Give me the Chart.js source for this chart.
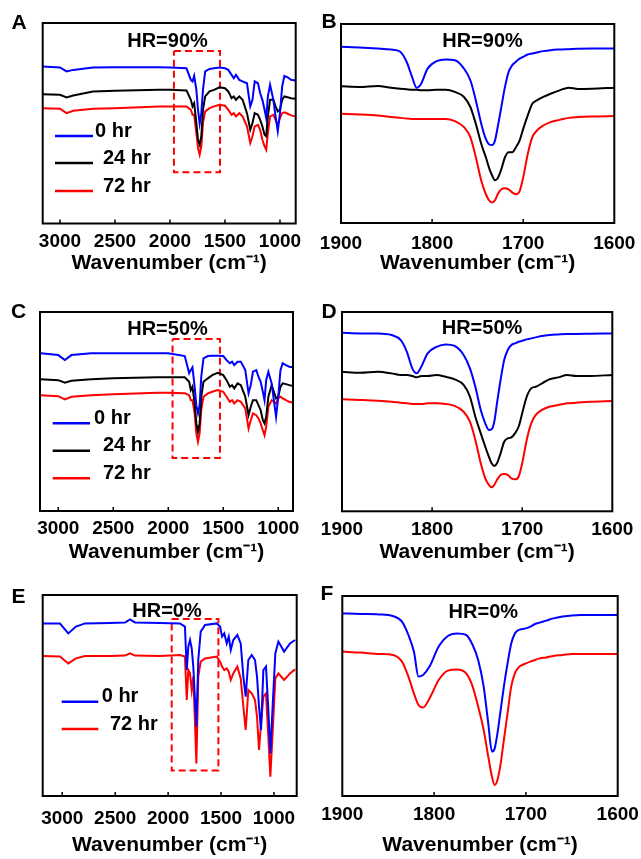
<!DOCTYPE html>
<html>
<head>
<meta charset="utf-8">
<script src="https://cdn.jsdelivr.net/npm/chart.js@4.4.0/dist/chart.umd.min.js"></script>
<style>
  body { margin: 0; background: #fff; }
  #fig { position: relative; width: 641px; height: 859px; overflow: hidden; background: #fff; }
  #fig canvas { position: absolute; }
  .tag { position: absolute; font: bold 21px "Liberation Sans", Arial, sans-serif; line-height: 21px; color: #000; }
</style>
</head>
<body>
<div id="fig">
  <canvas id="pA" width="320" height="290" style="left:0px;top:0px"></canvas>
  <canvas id="pB" width="331" height="290" style="left:310px;top:0px"></canvas>
  <canvas id="pC" width="320" height="290" style="left:0px;top:290px"></canvas>
  <canvas id="pD" width="331" height="290" style="left:310px;top:290px"></canvas>
  <canvas id="pE" width="320" height="279" style="left:0px;top:580px"></canvas>
  <canvas id="pF" width="331" height="279" style="left:310px;top:580px"></canvas>
  <div class="tag" style="left:11.5px;top:11px">A</div>
  <div class="tag" style="left:321.5px;top:10px">B</div>
  <div class="tag" style="left:11px;top:300px">C</div>
  <div class="tag" style="left:321.5px;top:300px">D</div>
  <div class="tag" style="left:11.5px;top:585px">E</div>
  <div class="tag" style="left:320.5px;top:582px">F</div>
</div>
<script>
// wavenumbers (cm-1) of the points
const wnWide = [3160, 3000, 2940, 2880, 2700, 2500, 2100, 2000, 1850, 1810, 1795, 1780, 1760, 1745, 1730, 1715,
  1700, 1680, 1640, 1600, 1550, 1500, 1470, 1440, 1420, 1400, 1370, 1340, 1300, 1270, 1250, 1230, 1200, 1180,
  1160, 1140, 1125, 1110, 1090, 1060, 1040, 1020, 1000, 980, 960, 930, 900, 860];
const wnNarrow = [1900, 1880, 1860, 1845, 1835, 1828, 1822, 1817, 1812, 1805, 1795, 1785, 1775, 1765, 1758, 1752,
  1746, 1741, 1737, 1734, 1731, 1728, 1724, 1720, 1716, 1712, 1708, 1704, 1700, 1695, 1690, 1685, 1678, 1670,
  1660, 1650, 1640, 1625, 1600];
const wnE = [3182, 3022, 2943, 2871, 2785, 2549, 2407, 2360, 2313, 2077, 1888, 1841, 1824, 1809, 1793, 1777, 1762,
  1746, 1733, 1715, 1692, 1651, 1541, 1509, 1490, 1469, 1446, 1427, 1408, 1384, 1346, 1314, 1289, 1267, 1242, 1210,
  1179, 1160, 1141, 1122, 1100, 1075, 1053, 1034, 1011, 987, 958, 904, 848, 800];

// tick labels
const ticksWide = [3000, 2500, 2000, 1500, 1000];
const ticksNarrow = [1900, 1800, 1700, 1600];

// transmittance, arbitrary units (stacked, offset)
// HR=90%
const a0 = [78.7, 78.2, 76.2, 77.0, 78.2, 78.3, 78.3, 78.2, 77.8, 72.0, 71.2, 74.0, 67.0, 57.0, 50.0, 55.3, 67.0, 76.2,
  77.5, 77.8, 78.2, 77.8, 77.0, 74.5, 72.8, 74.5, 72.0, 71.2, 70.3, 58.7, 62.0, 71.2, 70.3, 65.3, 62.0, 57.0, 52.8,
  63.7, 69.5, 62.0, 53.7, 46.2, 55.3, 68.7, 74.0, 73.3, 72.0, 71.7];
const a24 = [64.8, 64.5, 63.2, 64.2, 66.2, 66.5, 67.0, 67.0, 66.7, 62.0, 58.7, 60.3, 50.3, 42.0, 39.5, 43.7, 57.0, 63.7,
  66.2, 67.0, 68.3, 67.8, 66.2, 62.8, 63.7, 62.0, 63.7, 62.0, 55.3, 47.0, 50.3, 55.3, 54.5, 52.0, 48.7, 44.5, 43.7,
  53.7, 62.0, 62.0, 58.7, 56.2, 57.0, 62.0, 63.7, 63.3, 62.8, 62.5];
const a72 = [57.8, 57.5, 55.3, 56.5, 57.5, 57.8, 58.7, 58.7, 58.7, 57.0, 54.5, 54.5, 45.3, 37.8, 34.5, 38.7, 50.3, 56.2,
  57.8, 58.7, 59.5, 59.0, 57.0, 54.5, 55.3, 53.7, 55.3, 53.7, 48.7, 40.3, 43.7, 48.7, 49.5, 47.0, 42.0, 38.7, 37.0,
  45.3, 53.7, 54.5, 52.0, 49.5, 52.8, 55.3, 55.7, 55.0, 54.2, 53.7];
const b0 = [87.7, 87.3, 86.8, 86.3, 85.2, 80.2, 72.7, 67.3, 69.3, 76.8, 80.5, 81.3, 81.0, 76.8, 71.0, 61.0, 49.3, 41.8,
  39.0, 38.8, 41.0, 47.7, 57.7, 67.7, 75.2, 78.5, 80.2, 81.8, 82.7, 83.8, 84.3, 84.8, 85.5, 86.0, 86.3, 86.5, 86.7,
  86.8, 86.8];
const b24 = [68.0, 67.7, 68.2, 67.3, 66.8, 66.5, 66.3, 66.3, 66.0, 66.0, 66.3, 66.3, 65.2, 62.7, 57.7, 49.3, 39.3, 32.7,
  26.8, 23.5, 21.3, 22.3, 26.8, 32.7, 35.2, 35.2, 37.7, 41.0, 46.8, 53.5, 59.3, 61.0, 62.7, 64.3, 66.0, 67.3, 66.7,
  66.8, 67.3];
const b72 = [54.3, 54.0, 53.5, 52.7, 52.3, 52.0, 51.8, 51.7, 51.8, 51.8, 51.8, 51.8, 50.7, 47.7, 42.7, 32.7, 21.0, 14.3,
  11.0, 10.2, 11.3, 14.3, 16.8, 17.3, 16.7, 15.2, 14.3, 15.7, 22.7, 34.3, 42.7, 46.0, 48.5, 50.2, 51.3, 52.3, 52.7,
  53.0, 53.2];
// HR=50%
const c0 = [78.7, 77.8, 75.3, 77.8, 78.7, 78.7, 78.7, 78.7, 77.3, 68.7, 70.3, 71.7, 62.0, 52.8, 48.7, 52.8, 67.0, 76.2,
  77.3, 77.5, 77.5, 77.3, 75.3, 73.7, 74.5, 72.8, 74.5, 74.5, 70.3, 58.7, 62.8, 69.5, 70.3, 67.0, 64.5, 59.5, 55.3,
  65.3, 69.5, 63.7, 55.3, 47.0, 57.0, 70.3, 73.7, 72.8, 72.0, 71.7];
const c24 = [65.7, 65.3, 64.0, 65.0, 65.7, 66.2, 66.7, 66.7, 66.7, 64.5, 60.3, 62.0, 53.7, 43.7, 39.5, 43.7, 57.0, 64.5,
  66.2, 67.8, 69.0, 67.8, 65.3, 62.0, 62.8, 61.2, 63.7, 62.8, 57.0, 47.8, 52.0, 55.3, 55.3, 52.8, 50.3, 45.3, 43.7,
  47.0, 57.0, 62.8, 59.5, 56.2, 57.0, 62.0, 63.7, 63.3, 62.8, 62.3];
const c72 = [57.8, 57.3, 55.7, 57.0, 57.8, 58.3, 59.0, 59.0, 58.7, 57.8, 55.3, 55.3, 48.7, 38.7, 34.5, 38.7, 50.3, 57.0,
  58.7, 59.5, 60.3, 59.5, 57.0, 54.5, 55.3, 53.7, 55.3, 54.5, 51.2, 41.2, 45.3, 48.7, 47.8, 46.2, 43.7, 40.3, 37.8,
  42.0, 52.0, 55.3, 54.5, 53.7, 56.2, 57.0, 56.2, 55.3, 54.5, 54.0];
const d0 = [89.3, 89.0, 89.0, 88.2, 85.7, 79.8, 71.5, 69.0, 72.3, 79.0, 82.3, 83.5, 82.7, 78.2, 71.5, 62.3, 50.7, 44.0,
  40.7, 41.0, 44.8, 54.0, 65.7, 75.7, 80.7, 83.2, 84.0, 84.8, 85.3, 86.0, 86.5, 87.0, 87.7, 88.2, 88.5, 88.7, 88.7,
  88.8, 89.0];
const d24 = [69.8, 69.3, 69.8, 69.0, 68.2, 68.2, 67.7, 67.0, 67.7, 67.7, 68.2, 67.3, 66.0, 63.2, 57.3, 47.3, 39.0, 32.3,
  27.3, 24.0, 22.7, 24.0, 29.0, 34.8, 36.5, 37.0, 39.0, 42.3, 49.0, 57.3, 61.5, 62.3, 64.0, 66.0, 67.0, 68.2, 67.7,
  67.7, 68.2];
const d72 = [56.0, 55.7, 55.3, 54.8, 54.3, 54.0, 53.7, 53.7, 53.7, 54.0, 54.0, 53.7, 52.7, 49.8, 44.8, 35.7, 24.0, 16.5,
  13.2, 12.0, 13.2, 15.7, 18.2, 18.7, 18.2, 16.5, 16.0, 17.3, 24.0, 35.7, 44.0, 48.2, 50.7, 52.3, 53.2, 54.0, 54.3,
  54.8, 55.2];
// HR=0%
const e0 = [86.3, 86.2, 81.3, 84.7, 86.3, 86.5, 86.7, 88.3, 86.8, 86.5, 86.3, 84.7, 63.0, 74.7, 78.0, 73.8, 64.7, 48.0,
  34.7, 68.0, 82.2, 85.5, 86.3, 84.7, 79.7, 81.3, 76.3, 79.7, 73.0, 78.0, 80.5, 76.3, 59.7, 49.7, 68.0, 70.5, 68.0,
  59.7, 44.7, 33.0, 63.0, 64.7, 43.0, 21.3, 46.3, 71.3, 77.2, 72.2, 76.3, 78.0];
const e72 = [70.0, 69.8, 66.3, 68.8, 70.0, 70.0, 70.2, 71.3, 70.2, 70.0, 70.5, 69.7, 48.0, 63.0, 61.3, 53.0, 59.7, 36.3,
  16.3, 59.7, 67.2, 68.8, 69.7, 67.2, 64.7, 63.0, 63.8, 62.2, 58.0, 61.3, 64.7, 58.8, 44.7, 33.0, 53.0, 51.3, 48.0,
  39.7, 23.0, 36.3, 49.7, 51.3, 29.7, 9.7, 33.0, 58.8, 61.3, 58.0, 61.3, 63.3];
const f0 = [91.3, 91.0, 90.8, 90.0, 87.2, 80.5, 72.2, 59.7, 60.5, 64.7, 74.7, 80.0, 81.3, 80.5, 75.5, 68.0, 54.7, 36.3,
  22.2, 23.8, 31.3, 41.3, 54.7, 66.3, 76.3, 81.3, 83.0, 83.5, 83.8, 84.7, 86.0, 86.7, 87.7, 88.8, 89.7, 90.3, 90.5,
  90.5, 90.5];
const f72 = [72.2, 71.7, 71.0, 70.5, 67.2, 59.7, 51.3, 45.5, 44.2, 48.8, 58.0, 62.7, 63.3, 61.3, 54.7, 44.7, 33.0, 19.7,
  9.7, 5.5, 8.0, 14.7, 28.0, 41.3, 54.7, 61.3, 64.3, 65.5, 66.3, 67.2, 68.0, 68.8, 69.3, 70.0, 70.5, 71.0, 71.0,
  71.0, 71.0];

// dashed zoom regions: [from wn, to wn, top, bottom]
const boxA = [1964, 1545, 86.5, 25.7];
const boxC = [1961, 1530, 85.8, 26.5];
const boxE = [1966, 1525, 88.5, 12.7];

const times3 = ['0 hr', '24 hr', '72 hr'];
const times2 = ['0 hr', '72 hr'];

const BLUE = '#0000ff', BLACK = '#000000', RED = '#ff0000';
const FONT = '"Liberation Sans", Arial, Helvetica, sans-serif';

Chart.defaults.font.family = FONT;
Chart.defaults.color = '#000';

// frame, inward ticks, HR label and the hand-placed legend
const decor = {
  id: 'decor',
  afterDatasetsDraw(chart, args, opts) {
    const { ctx, chartArea: a } = chart;
    const x = chart.scales.x;
    ctx.save();
    ctx.strokeStyle = '#000';
    ctx.lineWidth = 2;
    ctx.strokeRect(a.left, a.top, a.right - a.left, a.bottom - a.top);
    ctx.lineWidth = 1.5;
    x.ticks.forEach(t => {
      const px = x.getPixelForValue(t.value);
      if (px < a.left + 3 || px > a.right - 3) return;
      ctx.beginPath();
      ctx.moveTo(px, a.bottom);
      ctx.lineTo(px, a.bottom - 4);
      ctx.stroke();
    });

    ctx.fillStyle = '#000';
    ctx.font = 'bold 20px ' + FONT;
    ctx.textAlign = 'center';
    ctx.textBaseline = 'middle';
    ctx.fillText(opts.hr, opts.hrX, opts.hrY + 1);

    if (opts.legend) {
      const L = opts.legend;
      ctx.textAlign = 'left';
      ctx.textBaseline = 'alphabetic';
      let k = 0;
      chart.data.datasets.forEach(ds => {
        if (ds.isBox) return;
        const y = L.y[k];
        ctx.strokeStyle = ds.borderColor;
        ctx.lineWidth = 2.5;
        ctx.beginPath();
        ctx.moveTo(L.x0, y);
        ctx.lineTo(L.x1, y);
        ctx.stroke();
        ctx.fillText(ds.label, L.tx[k], y + 0.5);
        k++;
      });
    }
    ctx.restore();
  }
};

// axisH: height of the x-axis block (ticks + title), forced in afterFit
const panels = [
  { canvas: 'pA', wn: wnWide, series: [a0, a24, a72], names: times3, colors: [BLUE, BLACK, RED],
    xMin: 857, xMax: 3157, yMax: 100.5, ticks: ticksWide, box: boxA, smooth: false, hr: 'HR=90%',
    pad: { left: 42.7, right: 24.3, top: 23, bottom: 16 }, axisH: 50.5, tickPad: 9, hrAt: [167.5, 40],
    legend: { x0: 55, x1: 93, y: [136, 163, 191], tx: [95, 103, 103] } },
  { canvas: 'pB', wn: wnNarrow, series: [b0, b24, b72], names: times3, colors: [BLUE, BLACK, RED],
    xMin: 1600, xMax: 1900, yMax: 99, ticks: ticksNarrow, smooth: true, hr: 'HR=90%',
    pad: { left: 31, right: 26.7, top: 24, bottom: 16 }, axisH: 51, tickPad: 11, hrAt: [172.5, 40.7] },
  { canvas: 'pC', wn: wnWide, series: [c0, c24, c72], names: times3, colors: [BLUE, BLACK, RED],
    xMin: 866, xMax: 3166, yMax: 99.3, ticks: ticksWide, box: boxC, smooth: false, hr: 'HR=50%',
    pad: { left: 40, right: 27, top: 22, bottom: 17.5 }, axisH: 51.5, tickPad: 8, hrAt: [167.5, 38.3],
    legend: { x0: 52.7, x1: 90, y: [133.3, 160.7, 188.3], tx: [94, 103, 103] } },
  { canvas: 'pD', wn: wnNarrow, series: [d0, d24, d72], names: times3, colors: [BLUE, BLACK, RED],
    xMin: 1600, xMax: 1900, yMax: 99.7, ticks: ticksNarrow, smooth: true, hr: 'HR=50%',
    pad: { left: 32, right: 28.7, top: 22, bottom: 16.8 }, axisH: 51.9, tickPad: 8.5, hrAt: [172, 37.7] },
  { canvas: 'pE', wn: wnE, series: [e0, e72], names: times2, colors: [BLUE, RED],
    xMin: 785, xMax: 3185, yMax: 100.5, ticks: ticksWide, box: boxE, smooth: false, hr: 'HR=0%',
    pad: { left: 42.7, right: 23.3, top: 15, bottom: 3.5 }, axisH: 59.5, tickPad: 13, hrAt: [167, 30.7],
    legend: { x0: 61.7, x1: 98.3, y: [121.7, 149], tx: [101.7, 110] } },
  { canvas: 'pF', wn: wnNarrow, series: [f0, f72], names: times2, colors: [BLUE, RED],
    xMin: 1600, xMax: 1900, yMax: 100, ticks: ticksNarrow, smooth: true, hr: 'HR=0%',
    pad: { left: 32.3, right: 23.3, top: 16, bottom: 3.5 }, axisH: 59.5, tickPad: 9.5, hrAt: [173.3, 31.7] }
];

panels.forEach(p => {
  const datasets = p.series.map((s, i) => ({
    label: p.names[i],
    data: p.wn.map((w, k) => ({ x: w, y: s[k] })),
    borderColor: p.colors[i],
    borderWidth: 2,
    pointRadius: 0,
    tension: 0,
    cubicInterpolationMode: p.smooth ? 'monotone' : 'default'
  }));
  if (p.box) {
    const [from, to, top, bottom] = p.box;
    datasets.push({
      label: 'region',
      isBox: true,
      data: [{ x: from, y: top }, { x: to, y: top }, { x: to, y: bottom }, { x: from, y: bottom }, { x: from, y: top }],
      borderColor: RED,
      borderWidth: 2,
      borderDash: [7, 4],
      pointRadius: 0
    });
  }

  new Chart(document.getElementById(p.canvas), {
    type: 'line',
    data: { datasets },
    options: {
      responsive: false,
      animation: false,
      layout: { padding: p.pad, autoPadding: false },
      plugins: {
        legend: { display: false },
        tooltip: { enabled: false },
        decor: { hr: p.hr, hrX: p.hrAt[0], hrY: p.hrAt[1], legend: p.legend || null }
      },
      scales: {
        x: {
          type: 'linear',
          reverse: true,
          min: p.xMin,
          max: p.xMax,
          afterBuildTicks: scale => { scale.ticks = p.ticks.map(v => ({ value: v })); },
          afterFit: scale => {
            scale.height = p.axisH;
            scale.paddingLeft = 0;
            scale.paddingRight = 0;
          },
          grid: { display: false, drawTicks: false },
          border: { display: false },
          ticks: {
            autoSkip: false,
            maxRotation: 0,
            minRotation: 0,
            padding: p.tickPad,
            color: '#000',
            font: { size: 19, weight: 'bold', lineHeight: 1 },
            callback: v => String(v)
          },
          title: {
            display: true,
            text: 'Wavenumber (cm\u207B\u00B9)',
            color: '#000',
            font: { size: 21, weight: 'bold', lineHeight: 1 },
            padding: 0
          }
        },
        y: { display: false, min: 0, max: p.yMax }
      }
    },
    plugins: [decor]
  });
});
</script>
</body>
</html>
